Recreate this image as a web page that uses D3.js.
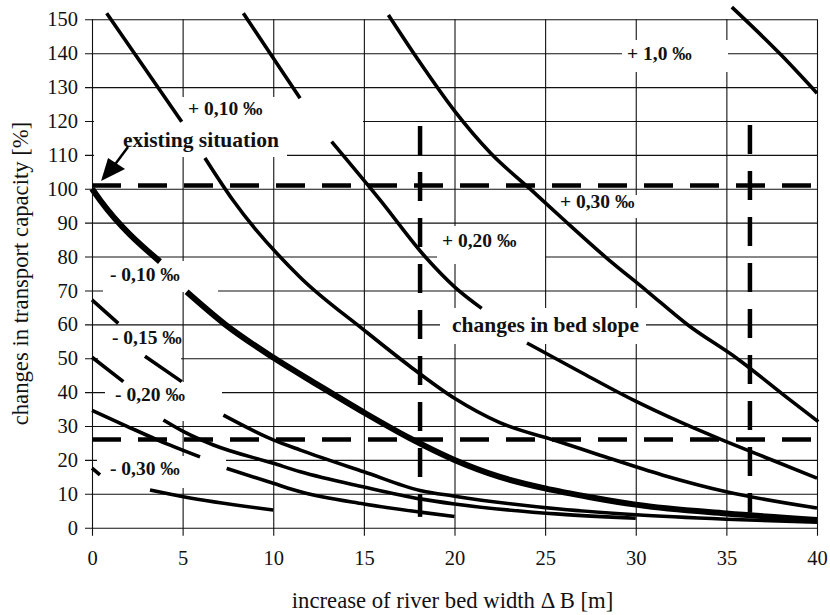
<!DOCTYPE html>
<html><head><meta charset="utf-8">
<script src="https://cdn.jsdelivr.net/npm/d3@7"></script>
<style>
body{margin:0;background:#fff;}
svg{display:block;}
text{font-family:"Liberation Serif","Times New Roman",serif;fill:#111;}
</style></head>
<body>
<svg id="chart" width="830" height="615"></svg>
<script>
// ---------------- data ----------------
const xTicks = [0, 5, 10, 15, 20, 25, 30, 35, 40];
const yTicks = [0, 10, 20, 30, 40, 50, 60, 70, 80, 90, 100, 110, 120, 130, 140, 150];

// curves: [increase of width (m), transport capacity (%)]; null = break in the line
const curvePlus100 = [[35.3,153.6],[38,139.6],[40,128.2]];
const curvePlus30 = [[16.35,151.3],[18,138],[20,123],[22,110.5],[24.2,99.8],[26,91],
  [28.3,80],[30.6,69.9],[32.88,59.8],[35.57,50],[38.51,37.7],[40.07,31.3]];
const curvePlus20 = [[8.35,151.8],[11.48,126.7], null,
  [13.22,113.9],[15.89,96.7],[18.37,80],[20.03,70.9],[21.5,64.7], null,
  [24.0,54.5],[26.92,46.0],[29.85,37.7],[32.44,31.2],[34.76,25.9],[37.41,20.2],[40,14.6]];
const curvePlus10 = [[0.81,151.8],[4.95,119.8], null,
  [6.23,109.1],[7.78,96.6],[11.48,73.9],[15.01,58.3],[17.5,47.8],[20,38.2],[22.5,31],
  [25.82,25.3],[28.03,21.4],[31.5,15.5],[35,10.6],[40,5.8]];
const curveBase = [[0,100],[0.44,96.7],[3.75,78.5], null,
  [5.22,69.6],[7.34,60],[10,50.2],[12.5,42],[15,34],[17.5,26.5],[20,20],[22.5,15],
  [25,11.6],[27.5,9],[30,6.8],[35,4.2],[40,2.3]];
const curveMinus10 = [[0,67.2],[1.45,60.3], null, [2.92,50.6],[4.95,43.1], null,
  [7.25,33.2],[10,25.9],[11.5,22.9],[15,16.5],[18.1,11],[20,9.3],[25.8,5.5],[30,3.8],[35,2.5],[40,1.6]];
const curveMinus15 = [[0,50.3],[1.73,43.1], null,
  [3.94,31.8],[5.22,27.9],[6.7,24.4],[10,19.0],[11.5,16.5],[15,12],[18.1,8.5],[20,7],[25.8,4.0],[30,2.8]];
const curveMinus20 = [[0,34.6],[1.9,30],[3.57,26],[5.96,20.9], null,
  [7.43,17.5],[10,13.1],[11.5,10.6],[15,7],[18.1,4.6],[20,3.3]];
const curveMinus30 = [[0,17.6],[0.44,15.6], null, [3.2,11.1],[5.04,9.15],[10,5.2]];

// dashed reference lines
const refLevels = [101, 26];                 // horizontal, %
const refWidths = [18.1, 36.3];              // vertical, m
const refWidthRange = [[3.2,118.5],[4.4,118.8]];

// annotation texts with anchor (data coords)
const slopeLabels = [
  {text:"+ 0,10 ‰", x:5.30, y:121.7},
  {text:"+ 0,20 ‰", x:19.31, y:82.9},
  {text:"+ 0,30 ‰", x:25.82, y:94.3},
  {text:"+ 1,0 ‰", x:29.52, y:138.0},
  {text:"- 0,10 ‰", x:0.99, y:72.8},
  {text:"- 0,15 ‰", x:1.10, y:54.2},
  {text:"- 0,20 ‰", x:1.27, y:37.4},
  {text:"- 0,30 ‰", x:0.99, y:15.5}
];
const bigLabels = [
  {text:"existing situation", x:1.71, y:112.3},
  {text:"changes in bed slope", x:19.86, y:57.7}
];

// ---------------- drawing ----------------
const svg = d3.select("#chart");
const x = d3.scaleLinear().domain([0,40]).range([92,817]);
const y = d3.scaleLinear().domain([0,150]).range([527.7,19.3]);

// grid + axes
const gridY = svg.append("g").attr("transform","translate(85,0)")
  .call(d3.axisLeft(y).tickValues(yTicks).tickSize(-(817-85)).tickPadding(7));
const gridX = svg.append("g").attr("transform","translate(0,535.7)")
  .call(d3.axisBottom(x).tickValues(xTicks).tickSize(-(535.7-19.3)).tickPadding(15));
[gridY, gridX].forEach(g => {
  g.attr("font-family","Liberation Serif").attr("font-size",20.5);
  g.select(".domain").remove();
  g.selectAll(".tick line").attr("stroke","#111").attr("stroke-width",1.1);
  g.selectAll(".tick text").attr("font-family","Liberation Serif")
    .style("font-family","'Liberation Serif',serif").style("font-size","20.5px").attr("fill","#111");
});

// white label boxes that interrupt the grid (pixel rects)
const boxes = [
  [94,97,287,157],[287,97,363,141],[553,195,645,218],[437,226,545,264],
  [440,308,646,344],[622,40,728,72],[103,261,218,292],[98,326,181,362],
  [105,382,222,421],[97,456,226,488]
];
svg.append("g").selectAll("rect").data(boxes).join("rect")
  .attr("x",d=>d[0]).attr("y",d=>d[1]).attr("width",d=>d[2]-d[0]).attr("height",d=>d[3]-d[1])
  .attr("fill","#fff");

// curves
const line = d3.line().defined(d=>d!==null).x(d=>x(d[0])).y(d=>y(d[1])).curve(d3.curveMonotoneX);
const curves = [
  {d:curvePlus100, w:3.6},{d:curvePlus30, w:3.6},{d:curvePlus20, w:3.6},{d:curvePlus10, w:3.6},
  {d:curveMinus10, w:3.6},{d:curveMinus15, w:3.6},{d:curveMinus20, w:3.6},{d:curveMinus30, w:3.6},
  {d:curveBase, w:6}
];
svg.append("g").selectAll("path").data(curves).join("path")
  .attr("d",c=>line(c.d)).attr("fill","none").attr("stroke","#000")
  .attr("stroke-width",c=>c.w).attr("stroke-linecap","butt");

// dashed reference lines
const dash = svg.append("g").attr("stroke","#000").attr("stroke-width",4.5).attr("stroke-dasharray","29,17");
dash.selectAll("line.h").data(refLevels).join("line").attr("class","h")
  .attr("x1",x(0)).attr("x2",x(40)).attr("y1",d=>y(d)).attr("y2",d=>y(d));
dash.selectAll("line.v").data(refWidths).join("line").attr("class","v")
  .attr("x1",d=>x(d)).attr("x2",d=>x(d))
  .attr("y1",(d,i)=>y(refWidthRange[i][1])).attr("y2",(d,i)=>y(refWidthRange[i][0]));

// labels
svg.append("g").selectAll("text").data(slopeLabels).join("text")
  .attr("x",d=>x(d.x)).attr("y",d=>y(d.y)).text(d=>d.text)
  .style("font-size","19.5px").style("font-weight","bold");
svg.append("g").selectAll("text").data(bigLabels).join("text")
  .attr("x",d=>x(d.x)).attr("y",d=>y(d.y)).text(d=>d.text)
  .style("font-size","21.5px").style("font-weight","bold");

// arrow to existing situation
const tip = [x(0.5), y(102.3)];
svg.append("line").attr("x1",128).attr("y1",147).attr("x2",tip[0]+12).attr("y2",tip[1]-14)
  .attr("stroke","#000").attr("stroke-width",2.5);
svg.append("path")
  .attr("d",`M${tip[0]},${tip[1]} L${tip[0]+7},${tip[1]-23} L${tip[0]+24},${tip[1]-12} Z`)
  .attr("fill","#000");

// axis titles
svg.append("text").attr("x",452.5).attr("y",608).attr("text-anchor","middle")
  .style("font-size","22.7px").text("increase of river bed width  Δ B [m]");
svg.append("text").attr("transform","translate(28,273.5) rotate(-90)").attr("text-anchor","middle")
  .style("font-size","22.7px").text("changes in transport capacity [%]");
</script>
</body></html>
